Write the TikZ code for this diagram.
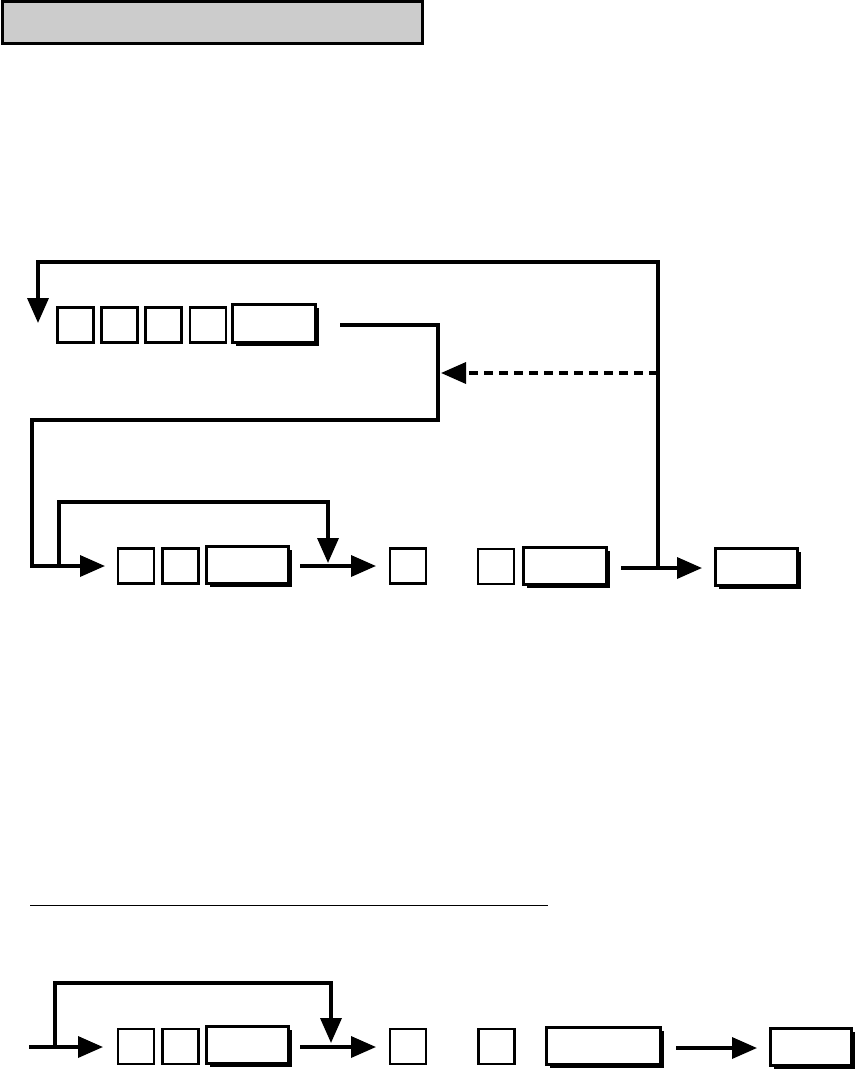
\documentclass[tikz,border=0pt]{standalone}
\usetikzlibrary{arrows.meta,shadows}
\begin{document}
\begin{tikzpicture}[x=1pt,y=-1pt,
  sq/.style={draw, line width=2.2pt, fill=white, minimum width=36pt, minimum height=35pt, inner sep=0pt, outer sep=0pt},
  wk/.style={draw, line width=2.2pt, fill=white, minimum width=82pt, minimum height=37pt, inner sep=0pt, outer sep=0pt,
    drop shadow={shadow xshift=3pt, shadow yshift=-3pt, fill=black, opacity=1}},
  conn/.style={line width=3.5pt, line join=miter},
  arr/.style={conn, -{Triangle[length=25pt,width=21pt]}}]
\useasboundingbox (0,0) rectangle (855,1070);

% header
\node[draw, line width=3pt, fill=black!20, minimum width=420pt, minimum height=42pt, inner sep=0pt] (header) at (212,23) {};

% top row of keys
\node[sq] (t1) at (75.5,325) {};
\node[sq] (t2) at (119.5,325) {};
\node[sq] (t3) at (163.5,325) {};
\node[sq] (t4) at (208,325) {};
\node[wk, minimum width=83pt, minimum height=38pt] (t5) at (274,323.5) {};

% middle row
\node[sq] (m1) at (136,566) {};
\node[sq] (m2) at (180.5,566) {};
\node[wk] (m3) at (247.5,565) {};
\node[sq] (m4) at (408,566) {};
\node[sq] (m5) at (496,566.5) {};
\node[wk, minimum width=83pt] (m6) at (565,566) {};
\node[wk] (m7) at (756.5,567) {};

% coordinates for connectors
\coordinate (jR) at (658,568);
\coordinate (topTip) at (38,323);
\coordinate (a0) at (340,325);
\coordinate (inTip) at (105,566);
\coordinate (dashStart) at (658,373);
\coordinate (dashTip) at (441,373);
\coordinate (loopStart) at (59,566);
\coordinate (loopTip) at (328,563);
\coordinate (m3out) at (300,566);
\coordinate (m4in) at (376,566);
\coordinate (m6out) at (621,568);
\coordinate (m7in) at (702,568);

\draw[arr] (jR) -- (658,262) -| (topTip);
\draw[arr] (a0) -| (438,420) -| (32,566) -- (inTip);
\draw[arr, dash pattern=on 9pt off 6pt] (dashStart) -- (dashTip);
\draw[arr] (loopStart) |- (328,502) -- (loopTip);
\draw[arr] (m3out) -- (m4in);
\draw[arr] (m6out) -- (m7in);

% separator
\draw[line width=1pt] (30,905) -- (548,905);

% bottom row
\node[sq] (b1) at (136,1046.5) {};
\node[sq] (b2) at (180.5,1046.5) {};
\node[wk] (b3) at (247.5,1045) {};
\node[sq] (b4) at (408,1046.5) {};
\node[sq] (b5) at (496.5,1046.5) {};
\node[wk, minimum width=114pt] (b6) at (603.5,1046) {};
\node[wk, minimum width=81pt] (b7) at (811,1047) {};

\coordinate (bStart) at (29,1047);
\coordinate (bTip) at (103,1047);
\coordinate (bLoop) at (55,1047);
\coordinate (bLoopTip) at (331,1043);
\coordinate (b3out) at (300,1047);
\coordinate (b4in) at (376,1047);
\coordinate (b6out) at (676,1048);
\coordinate (b7in) at (757,1048);

\draw[arr] (bStart) -- (bTip);
\draw[arr] (bLoop) |- (331,983) -- (bLoopTip);
\draw[arr] (b3out) -- (b4in);
\draw[arr] (b6out) -- (b7in);
\end{tikzpicture}
\end{document}
